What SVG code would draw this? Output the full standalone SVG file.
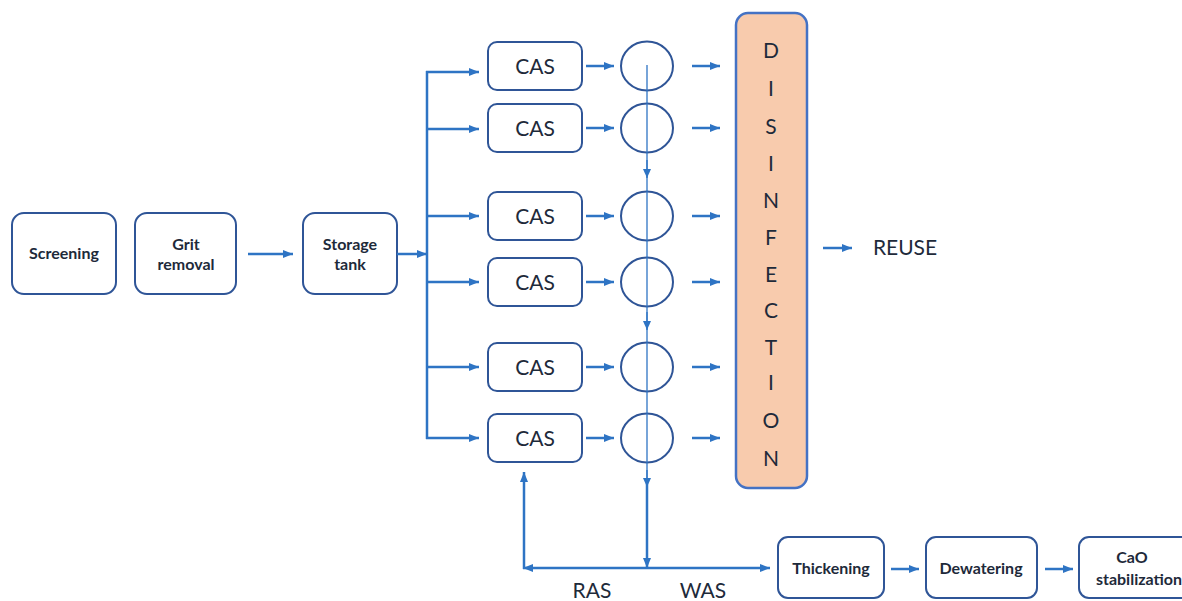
<svg xmlns="http://www.w3.org/2000/svg" width="1182" height="601" viewBox="0 0 1182 601">
<defs>
<marker id="ah" markerUnits="userSpaceOnUse" markerWidth="10" markerHeight="8" refX="10" refY="4" orient="auto-start-reverse">
<path d="M0,0 L10,4 L0,8 z" fill="#2E74C4"/>
</marker>
<marker id="ahs" markerUnits="userSpaceOnUse" markerWidth="9" markerHeight="8" refX="9" refY="4" orient="auto">
<path d="M0,0 L9,4 L0,8 z" fill="#2E74C4"/>
</marker>
</defs>
<style>
.box{fill:#fff;stroke:#2F5597;stroke-width:2}
.circ{fill:none;stroke:#2F5597;stroke-width:2}
.a{stroke:#2E74C4;stroke-width:2.5;fill:none;marker-end:url(#ah)}
.ln{stroke:#2E74C4;stroke-width:2.5;fill:none}
.thin{stroke:#2E74C4;stroke-width:1.3;fill:none}
.b{font-family:Lato,"Liberation Sans",sans-serif;font-weight:bold;font-size:16px;fill:#1E2A3A;text-anchor:middle}
.c{font-family:Lato,"Liberation Sans",sans-serif;font-size:21px;fill:#1E2A3A;text-anchor:middle}
.d{font-family:Lato,"Liberation Sans",sans-serif;font-size:21px;fill:#1E2A3A;text-anchor:middle}
</style>
<rect width="1182" height="601" fill="#fff"/>

<g id="screening"><rect class="box" x="12" y="213" width="104" height="81" rx="12"/><text class="b" x="64" y="259">Screening</text></g>
<g id="grit"><rect class="box" x="135" y="213" width="101" height="81" rx="12"/><text class="b" x="186" y="250">Grit</text><text class="b" x="186" y="270">removal</text></g>
<g id="storage"><rect class="box" x="303" y="213" width="94" height="81" rx="12"/><text class="b" x="350" y="250">Storage</text><text class="b" x="350" y="270">tank</text></g>

<g id="cas1"><rect class="box" x="488" y="42" width="94" height="48" rx="9"/><text class="c" x="535" y="74">CAS</text></g>
<g id="cas2"><rect class="box" x="488" y="104" width="94" height="48" rx="9"/><text class="c" x="535" y="136">CAS</text></g>
<g id="cas3"><rect class="box" x="488" y="192" width="94" height="48" rx="9"/><text class="c" x="535" y="224">CAS</text></g>
<g id="cas4"><rect class="box" x="488" y="258" width="94" height="48" rx="9"/><text class="c" x="535" y="290">CAS</text></g>
<g id="cas5"><rect class="box" x="488" y="343" width="94" height="48" rx="9"/><text class="c" x="535" y="375">CAS</text></g>
<g id="cas6"><rect class="box" x="488" y="414" width="94" height="48" rx="9"/><text class="c" x="535" y="446">CAS</text></g>

<g id="clar1"><ellipse class="circ" cx="647" cy="66" rx="26" ry="24.5"/></g>
<g id="clar2"><ellipse class="circ" cx="647" cy="128" rx="26" ry="24.5"/></g>
<g id="clar3"><ellipse class="circ" cx="647" cy="216" rx="26" ry="24.5"/></g>
<g id="clar4"><ellipse class="circ" cx="647" cy="282" rx="26" ry="24.5"/></g>
<g id="clar5"><ellipse class="circ" cx="647" cy="367" rx="26" ry="24.5"/></g>
<g id="clar6"><ellipse class="circ" cx="647" cy="438" rx="26" ry="24.5"/></g>

<g id="disinfection"><rect x="736" y="13" width="71" height="475" rx="12" fill="#F8CBAD" stroke="#4472C4" stroke-width="2.5"/>
<text class="d" x="771" y="58">D</text><text class="d" x="771" y="96">I</text><text class="d" x="771" y="134">S</text><text class="d" x="771" y="171">I</text><text class="d" x="771" y="208">N</text><text class="d" x="771" y="245">F</text><text class="d" x="771" y="282">E</text><text class="d" x="771" y="318">C</text><text class="d" x="771" y="355">T</text><text class="d" x="771" y="390">I</text><text class="d" x="771" y="428">O</text><text class="d" x="771" y="466">N</text></g>

<g id="reuse"><text class="c" x="905" y="255">REUSE</text></g>

<g id="thickening"><rect class="box" x="778" y="537" width="106" height="61" rx="10"/><text class="b" x="831" y="574">Thickening</text></g>
<g id="dewatering"><rect class="box" x="926" y="537" width="111" height="61" rx="10"/><text class="b" x="981" y="574">Dewatering</text></g>
<g id="cao"><rect class="box" x="1079" y="537" width="120" height="61" rx="10"/><text class="b" x="1132" y="563">CaO</text><text class="b" x="1139" y="585">stabilization</text></g>

<g id="labels"><text class="c" x="592" y="598">RAS</text><text class="c" x="703" y="598">WAS</text></g>

<g id="connectors">
<line class="a" x1="248" y1="254" x2="293" y2="254"/>
<line class="a" x1="397" y1="254" x2="427" y2="254"/>
<line class="ln" x1="427" y1="71" x2="427" y2="439"/>
<line class="a" x1="426" y1="72" x2="479" y2="72"/>
<line class="a" x1="426" y1="129" x2="479" y2="129"/>
<line class="a" x1="426" y1="216" x2="479" y2="216"/>
<line class="a" x1="426" y1="282" x2="479" y2="282"/>
<line class="a" x1="426" y1="367" x2="479" y2="367"/>
<line class="a" x1="426" y1="438" x2="479" y2="438"/>

<line class="a" x1="586" y1="66" x2="614" y2="66"/>
<line class="a" x1="586" y1="128" x2="614" y2="128"/>
<line class="a" x1="586" y1="216" x2="614" y2="216"/>
<line class="a" x1="586" y1="282" x2="614" y2="282"/>
<line class="a" x1="586" y1="367" x2="614" y2="367"/>
<line class="a" x1="586" y1="438" x2="614" y2="438"/>

<line class="a" x1="692" y1="66" x2="720" y2="66"/>
<line class="a" x1="692" y1="128" x2="720" y2="128"/>
<line class="a" x1="692" y1="216" x2="720" y2="216"/>
<line class="a" x1="692" y1="282" x2="720" y2="282"/>
<line class="a" x1="692" y1="367" x2="720" y2="367"/>
<line class="a" x1="692" y1="438" x2="720" y2="438"/>

<line class="a" x1="823" y1="248" x2="852" y2="248"/>

<line class="thin" x1="647" y1="65" x2="647" y2="480"/>
<line class="thin" x1="647" y1="160" x2="647" y2="178" style="marker-end:url(#ahs)"/>
<line class="thin" x1="647" y1="312" x2="647" y2="330" style="marker-end:url(#ahs)"/>
<line class="thin" x1="647" y1="470" x2="647" y2="487" style="marker-end:url(#ahs)"/>
<line class="a" x1="647" y1="478" x2="647" y2="568"/>

<line class="a" x1="647" y1="568" x2="770" y2="568"/>
<line class="a" x1="647" y1="568" x2="523" y2="568"/>
<line class="a" x1="524" y1="569" x2="524" y2="472"/>

<line class="a" x1="891" y1="569" x2="919" y2="569"/>
<line class="a" x1="1045" y1="569" x2="1073" y2="569"/>
</g>
</svg>
